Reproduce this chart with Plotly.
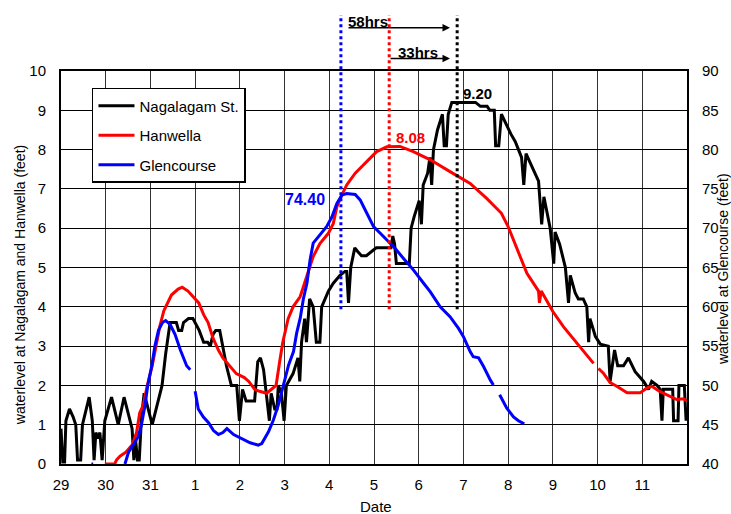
import plotly.graph_objects as go

# x = days since 29th 00:00
day_ticks = list(range(14))
day_labels = ["29", "30", "31", "1", "2", "3", "4", "5", "6", "7", "8", "9", "10", "11"]

nagalagam_t = [0.00, 0.04, 0.08, 0.11, 0.19, 0.27, 0.33, 0.37, 0.44, 0.48, 0.63, 0.70, 0.74, 0.78, 0.83, 0.87,
               0.92, 0.98, 1.13, 1.28, 1.41, 1.53, 1.59, 1.63, 1.67, 1.71, 1.75, 1.80, 1.86, 2.04, 2.15, 2.26,
               2.34, 2.44, 2.58, 2.63, 2.70, 2.74, 2.85, 2.95, 3.09, 3.19, 3.28, 3.34, 3.40, 3.46, 3.55, 3.62,
               3.70, 3.81, 3.93, 3.99, 4.06, 4.14, 4.33, 4.40, 4.46, 4.53, 4.66, 4.70, 4.78, 4.83, 4.86, 4.93,
               4.99, 5.04, 5.19, 5.30, 5.34, 5.38, 5.45, 5.49, 5.56, 5.64, 5.71, 5.79, 5.83, 5.98, 6.09, 6.24,
               6.35, 6.39, 6.43, 6.48, 6.57, 6.64, 6.72, 6.83, 6.94, 7.05, 7.38, 7.42, 7.46, 7.50, 7.79, 7.83,
               7.90, 8.01, 8.06, 8.10, 8.20, 8.25, 8.29, 8.33, 8.42, 8.53, 8.57, 8.62, 8.66, 8.74, 9.27, 9.38,
               9.53, 9.59, 9.69, 9.72, 9.79, 9.85, 10.06, 10.16, 10.30, 10.35, 10.40, 10.68, 10.75, 10.80, 10.94,
               11.02, 11.05, 11.15, 11.28, 11.35, 11.39, 11.50, 11.57, 11.68, 11.76, 11.80, 11.83, 11.95, 12.06,
               12.24, 12.28, 12.38, 12.45, 12.58, 12.69, 12.84, 13.03, 13.14, 13.21, 13.33, 13.40, 13.44, 13.47,
               13.68, 13.70, 13.80, 13.82, 13.94, 13.98]
nagalagam_ft = [0.9, 0.05, 0.05, 1.1, 1.4, 1.2, 1.0, 0.1, 0.1, 1.0, 1.7, 1.1, 0.1, 0.8, 0.65, 0.8,
                0.1, 1.1, 1.7, 1.0, 1.7, 1.2, 0.9, 0.1, 0.6, 0.1, 0.1, 1.2, 1.8, 1.0, 1.5, 2.0,
                2.8, 3.6, 3.6, 3.4, 3.4, 3.6, 3.7, 3.7, 3.4, 3.1, 3.1, 3.0, 3.3, 3.4, 3.4, 3.0,
                2.5, 2.0, 2.0, 1.1, 1.9, 1.6, 1.6, 2.6, 2.7, 2.4, 1.1, 1.8, 1.4, 1.4, 2.0, 1.8,
                1.1, 2.0, 2.3, 2.7, 2.1, 3.1, 3.7, 3.1, 4.2, 4.0, 3.1, 3.1, 4.0, 4.4, 4.6, 4.8,
                4.9, 4.9, 4.1, 5.0, 5.5, 5.4, 5.3, 5.3, 5.4, 5.5, 5.5, 5.8, 5.6, 5.1, 5.1, 6.0,
                6.3, 6.7, 6.1, 7.1, 7.4, 7.8, 7.1, 8.0, 8.5, 8.9, 8.1, 8.1, 8.9, 9.2, 9.2, 9.1,
                9.1, 9.0, 9.0, 8.1, 8.1, 8.9, 8.4, 8.2, 7.8, 7.1, 7.9, 7.2, 6.1, 6.8, 6.0,
                5.1, 5.9, 5.6, 5.0, 4.1, 4.8, 4.35, 4.2, 4.2, 4.0, 3.1, 3.7, 3.25, 3.05,
                3.0, 2.1, 2.9, 2.5, 2.5, 2.7, 2.35, 2.1, 1.9, 2.1, 2.0, 1.9, 1.1, 1.9,
                1.9, 1.1, 1.1, 2.0, 2.0, 1.1]

hanwella_t = [0.98, 1.20, 1.24, 1.32, 1.45, 1.60, 1.69, 1.76, 1.84, 1.93, 2.04, 2.13, 2.21, 2.30, 2.39, 2.47,
              2.62, 2.71, 2.84, 2.99, 3.08, 3.19, 3.29, 3.40, 3.52, 3.62, 3.77, 3.92, 4.10, 4.20, 4.33, 4.44,
              4.60, 4.74, 4.81, 4.89, 4.96, 5.08, 5.19, 5.35, 5.50, 5.64, 5.79, 5.98, 6.09, 6.17, 6.28, 6.39,
              6.58, 6.80, 7.06, 7.29, 7.58, 7.88, 8.26, 8.70, 9.15, 9.52, 9.85, 10.00, 10.21, 10.42, 10.68,
              10.70, 10.74, 11.00, 11.24, 11.54, 11.91, None, 12.02, 12.13, 12.28, 12.43, 12.66, 12.95, 13.10,
              13.21, 13.40, 13.62, 13.77, 13.92, 14.00]
hanwella_ft = [0.0, 0.0, 0.1, 0.2, 0.3, 0.5, 0.8, 1.3, 1.5, 2.0, 2.5, 3.0, 3.5, 3.9, 4.1, 4.3,
               4.45, 4.5, 4.4, 4.2, 4.1, 3.8, 3.6, 3.2, 2.9, 2.7, 2.5, 2.3, 2.2, 2.1, 1.9, 1.85,
               1.8, 1.95, 2.0, 2.6, 3.1, 3.7, 4.0, 4.26, 4.77, 5.28, 5.61, 5.87, 6.12, 6.55, 6.84, 7.1,
               7.4, 7.65, 7.95, 8.07, 8.08, 7.95, 7.74, 7.44, 7.14, 6.76, 6.38, 6.04, 5.45, 4.85, 4.4,
               4.1, 4.4, 3.88, 3.49, 3.07, 2.56, None, 2.43, 2.31, 2.07, 1.98, 1.81, 1.81, 1.93,
               1.98, 1.84, 1.71, 1.64, 1.66, 1.61]

glencourse_t = [0.68, 0.72, None, 1.43, 1.51, 1.62, 1.73, 1.80, 1.88, 1.94, 2.03, 2.10, 2.18, 2.27, 2.34, 2.44,
                2.55, 2.67, 2.74, 2.81, 2.89, None, 3.00, 3.07, 3.18, 3.30, 3.41, 3.52, 3.62, 3.71, 3.86, 4.00,
                4.23, 4.41, 4.49, 4.64, 4.75, 4.86, 4.97, 5.09, 5.20, 5.27, 5.35, 5.42, 5.50, 5.57, 5.64, 5.76,
                5.94, 6.06, 6.17, 6.28, 6.39, 6.58, 6.69, 6.84, 6.99, 7.14, 7.29, 7.47, 7.66, 7.88, 8.11, 8.26,
                8.48, 8.70, 8.89, 9.00, 9.15, 9.22, 9.34, 9.45, 9.60, 9.67, None, 9.81, 9.97, 10.12, 10.23, 10.36]
glencourse_ft = [40.0, 40.0, None, 40.0, 41.5, 42.5, 43.5, 45.0, 47.5, 50.0, 52.5, 55.0, 57.0, 58.0, 58.25, 57.75,
                 56.5, 54.5, 53.5, 52.5, 52.0, None, 49.25, 47.0, 46.0, 45.25, 44.25, 43.75, 44.0, 44.5, 43.75, 43.35,
                 42.7, 42.4, 42.6, 44.1, 45.6, 47.5, 50.05, 52.6, 54.3, 56.65, 58.55, 61.0, 63.0, 65.95, 68.1, 68.9,
                 70.2, 71.45, 73.15, 74.2, 74.4, 74.3, 73.6, 71.9, 70.2, 69.35, 68.5, 67.45, 66.15, 64.7, 63.0, 61.9,
                 60.0, 58.75, 57.25, 56.2, 54.3, 53.65, 53.5, 52.4, 50.7, 50.05, None, 48.8, 47.1, 46.0, 45.5, 45.1]

peak_glencourse_t, peak_hanwella_t, peak_nagalagam_t = 6.26, 7.34, 8.86

FONT = "Arial, Liberation Sans, sans-serif"

fig = go.Figure()
fig.add_trace(go.Scatter(x=nagalagam_t, y=nagalagam_ft, mode="lines", name="Nagalagam St.",
                         line=dict(color="#000000", width=3), legendgroup="a"))
fig.add_trace(go.Scatter(x=hanwella_t, y=hanwella_ft, mode="lines", name="Hanwella",
                         line=dict(color="#FF0000", width=3), legendgroup="b"))
fig.add_trace(go.Scatter(x=glencourse_t, y=glencourse_ft, mode="lines", name="Glencourse",
                         line=dict(color="#0000FF", width=3), yaxis="y2", legendgroup="c"))

shapes = []
for xv, col in [(peak_glencourse_t, "#0000FF"), (peak_hanwella_t, "#FF0000"), (peak_nagalagam_t, "#000000")]:
    shapes.append(dict(type="line", xref="x", yref="paper", x0=xv, x1=xv, y0=0.394, y1=1.1425,
                       line=dict(color=col, width=3, dash="dot"), layer="above"))

annotations = [
    dict(x=-0.0655, y=0.455, xref="paper", yref="paper", xanchor="center", yanchor="middle",
         text="waterlevel at Nagalagam and Hanwella (feet)",
         textangle=-90, showarrow=False, font=dict(size=14, family=FONT, color="#000")),
    dict(x=1.0575, y=0.496, xref="paper", yref="paper", xanchor="center", yanchor="middle",
         text="waterlevel at Glencourse (feet)",
         textangle=-90, showarrow=False, font=dict(size=14, family=FONT, color="#000")),
    dict(x=0.503, y=-0.109, xref="paper", yref="paper", xanchor="center", yanchor="middle",
         text="Date", showarrow=False, font=dict(size=15, family=FONT, color="#000")),
    dict(x=9.31, y=9.44, xref="x", yref="y", text="<b>9.20</b>", showarrow=False,
         font=dict(size=15, family=FONT, color="#000000")),
    dict(x=7.81, y=8.30, xref="x", yref="y", text="<b>8.08</b>", showarrow=False,
         font=dict(size=15, family=FONT, color="#FF0000")),
    dict(x=5.45, y=6.74, xref="x", yref="y", text="<b>74.40</b>", showarrow=False,
         font=dict(size=16, family=FONT, color="#0000FF")),
    # arrows (tail offsets in pixels)
    dict(x=8.70, y=1.110, xref="x", yref="paper", ax=-103, ay=0, axref="pixel", ayref="pixel", text="",
         showarrow=True, arrowhead=2, arrowsize=1, arrowwidth=1.5, arrowcolor="#000"),
    dict(x=8.70, y=1.032, xref="x", yref="paper", ax=-61, ay=0, axref="pixel", ayref="pixel", text="",
         showarrow=True, arrowhead=2, arrowsize=1, arrowwidth=1.5, arrowcolor="#000"),
    dict(x=6.87, y=1.1254, xref="x", yref="paper", xanchor="center", yanchor="middle",
         text="<b>58hrs</b>", showarrow=False, font=dict(size=15, family=FONT, color="#000")),
    dict(x=7.98, y=1.0476, xref="x", yref="paper", xanchor="center", yanchor="middle",
         text="<b>33hrs</b>", showarrow=False, font=dict(size=15, family=FONT, color="#000")),
]

fig.update_layout(
    width=731, height=514,
    margin=dict(l=61, r=44, t=71, b=50),
    paper_bgcolor="white", plot_bgcolor="white",
    font=dict(family=FONT, size=15, color="#000"),
    showlegend=True,
    legend=dict(x=0.0495, y=0.957, xanchor="left", yanchor="top", bgcolor="white",
                bordercolor="#000", borderwidth=1.5, font=dict(size=15, family=FONT),
                tracegroupgap=7, itemwidth=36),
    xaxis=dict(range=[0, 14], tickvals=day_ticks, ticktext=day_labels, showgrid=True,
               gridcolor="#333333", gridwidth=1, showline=True, linecolor="#000", linewidth=2,
               mirror=True, ticks="", zeroline=False, ticklabelstandoff=6,
               tickfont=dict(size=15)),
    yaxis=dict(range=[0, 10], dtick=1, showgrid=True, gridcolor="#000", gridwidth=1,
               showline=True, linecolor="#000", linewidth=2, mirror=True, ticks="",
               zeroline=False, ticklabelstandoff=10, tickfont=dict(size=15)),
    yaxis2=dict(range=[40, 90], dtick=5, overlaying="y", side="right", showgrid=False,
                showline=True, linecolor="#000", linewidth=2, ticks="", zeroline=False,
                ticklabelstandoff=10, tickfont=dict(size=15)),
    shapes=shapes,
    annotations=annotations,
)

fig.write_html("out.html", config={"displayModeBar": False},
               post_script="document.body.style.margin='0';")
